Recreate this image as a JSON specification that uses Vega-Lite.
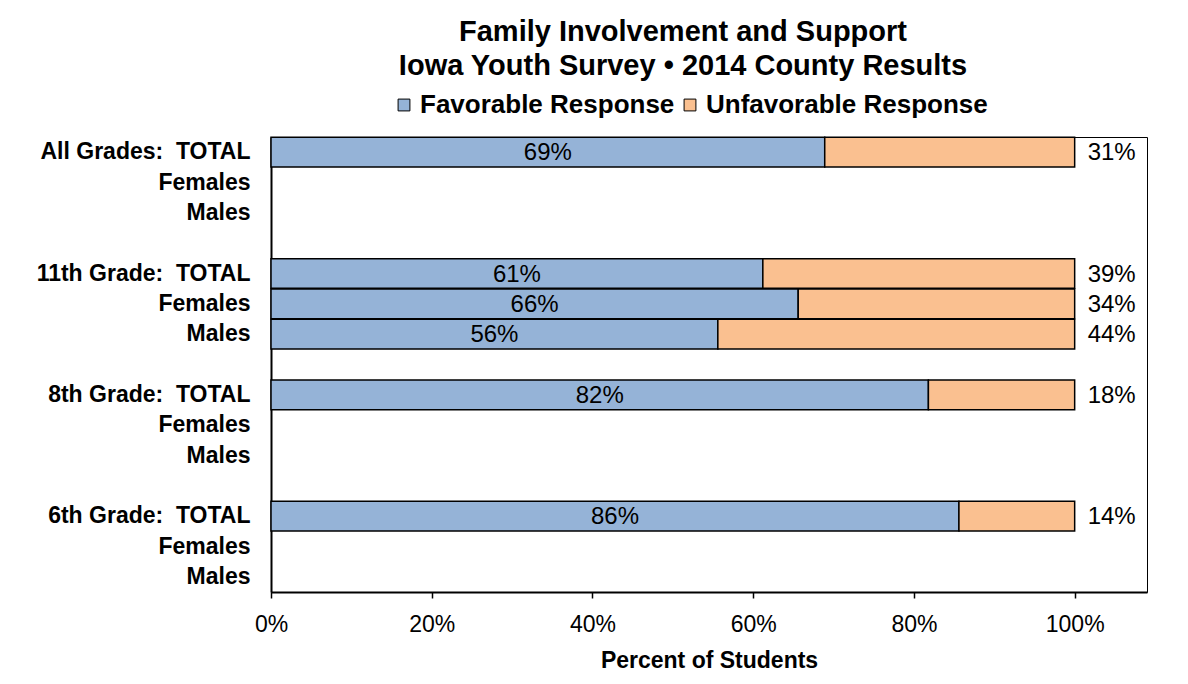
{
  "$schema": "https://vega.github.io/schema/vega-lite/v6.json",
  "width": 876,
  "height": 455,
  "autosize": {"type": "none"},
  "padding": {"left": 271, "top": 137, "right": 41, "bottom": 92},
  "background": "white",
  "title": {
    "text": ["Family Involvement and Support", "Iowa Youth Survey • 2014 County Results"],
    "fontSize": 29,
    "fontWeight": "bold",
    "color": "black",
    "lineHeight": 34,
    "anchor": "middle",
    "frame": "group",
    "dx": -26,
    "offset": 11
  },
  "config": {
    "font": "Liberation Sans",
    "view": {"stroke": "black", "strokeWidth": 1},
    "axis": {"labelColor": "black", "titleColor": "black", "domainColor": "black", "tickColor": "black", "grid": false, "labelLimit": 0}
  },
  "data": {
    "values": [
      {"key": "All Grades:\u00a0 TOTAL", "response": "Favorable Response", "pct": 0.689},
      {"key": "All Grades:\u00a0 TOTAL", "response": "Unfavorable Response", "pct": 0.311},
      {"key": "11th Grade:\u00a0 TOTAL", "response": "Favorable Response", "pct": 0.612},
      {"key": "11th Grade:\u00a0 TOTAL", "response": "Unfavorable Response", "pct": 0.388},
      {"key": "Females#11", "response": "Favorable Response", "pct": 0.656},
      {"key": "Females#11", "response": "Unfavorable Response", "pct": 0.344},
      {"key": "Males#11", "response": "Favorable Response", "pct": 0.556},
      {"key": "Males#11", "response": "Unfavorable Response", "pct": 0.444},
      {"key": "8th Grade:\u00a0 TOTAL", "response": "Favorable Response", "pct": 0.818},
      {"key": "8th Grade:\u00a0 TOTAL", "response": "Unfavorable Response", "pct": 0.182},
      {"key": "6th Grade:\u00a0 TOTAL", "response": "Favorable Response", "pct": 0.856},
      {"key": "6th Grade:\u00a0 TOTAL", "response": "Unfavorable Response", "pct": 0.144}
    ]
  },
  "encoding": {
    "y": {
      "field": "key",
      "type": "nominal",
      "scale": {
        "domain": ["All Grades:\u00a0 TOTAL", "Females#A", "Males#A", "#1", "11th Grade:\u00a0 TOTAL", "Females#11", "Males#11", "#2", "8th Grade:\u00a0 TOTAL", "Females#8", "Males#8", "#3", "6th Grade:\u00a0 TOTAL", "Females#6", "Males#6"],
        "paddingInner": 0.02,
        "paddingOuter": 0.01
      },
      "axis": {
        "title": null,
        "ticks": false,
        "labelExpr": "split(datum.label, '#')[0]",
        "labelFontSize": 23,
        "labelFontWeight": "bold",
        "labelPadding": 21,
        "domainWidth": 2
      }
    }
  },
  "layer": [
    {
      "mark": {"type": "bar", "stroke": "black", "strokeWidth": 1.5},
      "encoding": {
        "x": {
          "field": "pct",
          "type": "quantitative",
          "stack": "zero",
          "scale": {"domain": [0, 1.09], "nice": false, "zero": true},
          "axis": {
            "values": [0, 0.2, 0.4, 0.6, 0.8, 1],
            "format": ".0%",
            "title": "Percent of Students",
            "titleFontSize": 23,
            "titleFontWeight": "bold",
            "titlePadding": 13,
            "labelFontSize": 23,
            "labelPadding": 15,
            "tickSize": 6,
            "tickWidth": 1.5,
            "domainWidth": 2,
            "labelFlush": false
          }
        },
        "color": {
          "field": "response",
          "type": "nominal",
          "scale": {"domain": ["Favorable Response", "Unfavorable Response"], "range": ["#95B3D7", "#FAC090"]},
          "legend": {
            "orient": "none",
            "legendX": 120,
            "legendY": -45,
            "padding": 0,
            "direction": "horizontal",
            "title": null,
            "symbolType": "square",
            "symbolSize": 140,
            "symbolStrokeColor": "black",
            "symbolStrokeWidth": 1,
            "labelFontSize": 26,
            "labelFontWeight": "bold",
            "labelColor": "black",
            "labelLimit": 0,
            "columnPadding": 2,
            "labelOffset": 3
          }
        },
        "order": {"field": "response", "sort": "ascending"}
      }
    },
    {
      "transform": [{"filter": "datum.response == 'Favorable Response'"}],
      "mark": {"type": "text", "fontSize": 24, "color": "black", "align": "center", "baseline": "middle", "dy": 1},
      "encoding": {
        "x": {"field": "pct", "type": "quantitative", "scale": {"domain": [0, 2.18], "nice": false, "zero": true}, "axis": null},
        "text": {"field": "pct", "type": "quantitative", "format": ".0%"}
      }
    },
    {
      "transform": [{"filter": "datum.response == 'Unfavorable Response'"}],
      "mark": {"type": "text", "fontSize": 24, "color": "black", "align": "left", "baseline": "middle", "dx": 13, "dy": 1},
      "encoding": {
        "x": {"datum": 1, "type": "quantitative", "scale": {"domain": [0, 1.09], "nice": false, "zero": true}, "axis": null},
        "text": {"field": "pct", "type": "quantitative", "format": ".0%"}
      }
    }
  ],
  "resolve": {"scale": {"x": "independent"}, "axis": {"x": "independent"}}
}
